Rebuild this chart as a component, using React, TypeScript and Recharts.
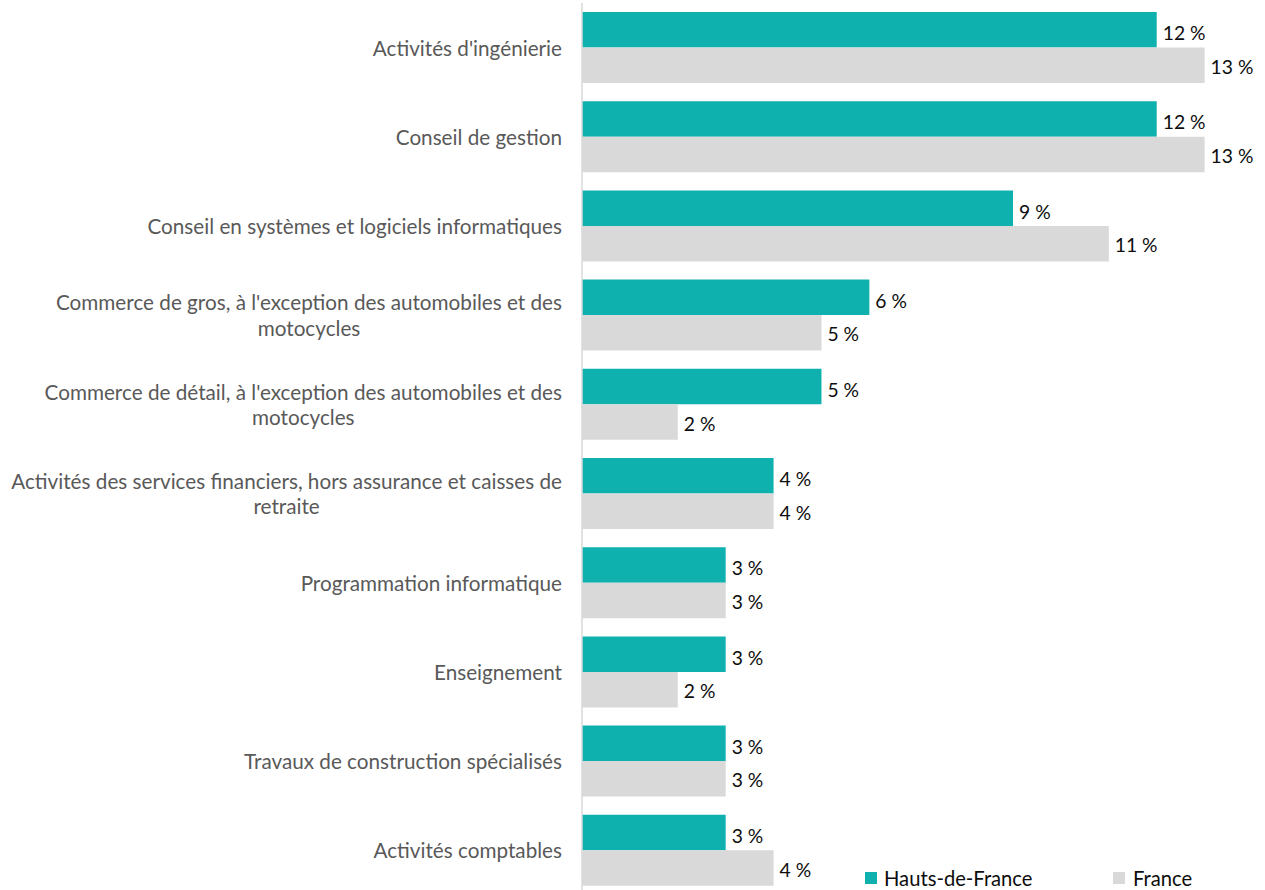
import React from "react";
import { BarChart, Bar, XAxis, YAxis, LabelList } from "recharts";

const categories = [
  "Activités d'ingénierie",
  "Conseil de gestion",
  "Conseil en systèmes et logiciels informatiques",
  "Commerce de gros, à l'exception des automobiles et des\nmotocycles",
  "Commerce de détail, à l'exception des automobiles et des\nmotocycles",
  "Activités des services financiers, hors assurance et caisses de\nretraite",
  "Programmation informatique",
  "Enseignement",
  "Travaux de construction spécialisés",
  "Activités comptables",
];
const hautsDeFrance = [12, 12, 9, 6, 5, 4, 3, 3, 3, 3];
const france = [13, 13, 11, 5, 2, 4, 3, 2, 3, 4];
const seriesNames = ["Hauts-de-France", "France"];
const xDomain = [0, 14];

const data = categories.map((c, i) => ({
  name: c,
  hdf: hautsDeFrance[i],
  fr: france[i],
}));

const FONT = "Lato, 'Open Sans', sans-serif";
const CAT_SIZE = 20.7;
const VAL_SIZE = 19.3;
const TEAL = "#0FB1AF";
const GREY = "#D9D9D9";

let ctx: CanvasRenderingContext2D | null = null;
function measure(text: string, size: number) {
  if (!ctx) ctx = document.createElement("canvas").getContext("2d");
  if (!ctx) return text.length * size * 0.5;
  ctx.font = `${size}px ${FONT}`;
  return ctx.measureText(text).width;
}

const CategoryTick = (props: any) => {
  const { x, y, payload } = props;
  const lines: string[] = String(payload.value).split("\n");
  const right = x - 12;
  const lh = 25.5;
  const widths = lines.map((l) => measure(l, CAT_SIZE));
  const maxW = Math.max(...widths);
  const cx = right - maxW / 2;
  const startY = y - ((lines.length - 1) * lh) / 2;
  return (
    <g>
      {lines.map((l, i) => (
        <text
          key={i}
          x={lines.length > 1 ? cx : right}
          y={startY + i * lh}
          textAnchor={lines.length > 1 ? "middle" : "end"}
          dominantBaseline="central"
          fill="#595959"
          fontSize={CAT_SIZE}
          fontFamily={FONT}
        >
          {l}
        </text>
      ))}
    </g>
  );
};

const makeValueLabel = (dy: number) => (props: any) => {
  const { x, y, width, height, value } = props;
  return (
    <text
      x={x + width + 6}
      y={y + height / 2 + dy}
      dominantBaseline="central"
      fill="#0d0d0d"
      fontSize={VAL_SIZE}
      fontFamily={FONT}
    >
      {`${value} %`}
    </text>
  );
};

export default function App() {
  return (
    <div style={{ position: "absolute", left: 0, top: 0, width: 1265, height: 890, overflow: "hidden", background: "#fff" }}>
      <BarChart
        layout="vertical"
        width={1265}
        height={895}
        data={data}
        margin={{ top: 3, right: 12.5, bottom: 0, left: 0 }}
        barGap={0}
        barSize={35.5}
      >
        <XAxis type="number" domain={xDomain} hide />
        <YAxis
          type="category"
          dataKey="name"
          width={582}
          tickLine={false}
          axisLine={{ stroke: "#D9D9D9", strokeWidth: 1.5 }}
          tick={<CategoryTick />}
          interval={0}
        />
        <Bar dataKey="hdf" name={seriesNames[0]} fill={TEAL} isAnimationActive={false}>
          <LabelList dataKey="hdf" content={makeValueLabel(3)} />
        </Bar>
        <Bar dataKey="fr" name={seriesNames[1]} fill={GREY} isAnimationActive={false}>
          <LabelList dataKey="fr" content={makeValueLabel(1)} />
        </Bar>
      </BarChart>
      <div
        style={{
          position: "absolute",
          left: 865,
          top: 866,
          display: "flex",
          alignItems: "center",
          fontFamily: FONT,
          fontSize: 20.2,
          color: "#0d0d0d",
          lineHeight: "24px",
        }}
      >
        <span style={{ display: "inline-block", width: 12, height: 12, background: TEAL, marginRight: 7 }} />
        <span style={{ width: 229 }}>{seriesNames[0]}</span>
        <span style={{ display: "inline-block", width: 12, height: 12, background: GREY, marginRight: 8 }} />
        <span>{seriesNames[1]}</span>
      </div>
    </div>
  );
}
